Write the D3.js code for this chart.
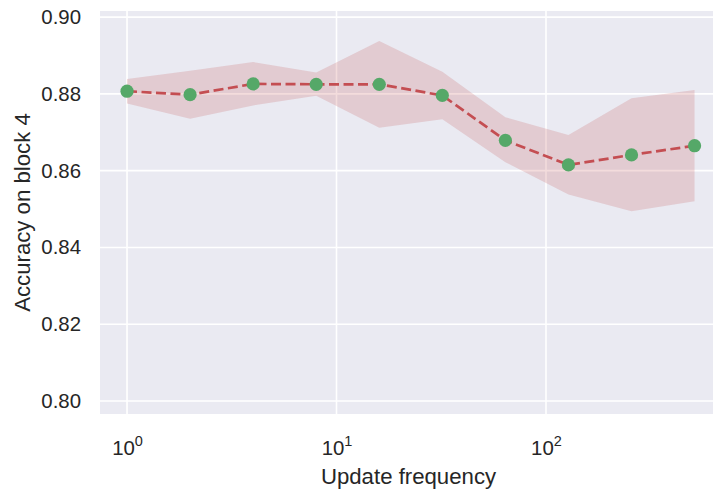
<!DOCTYPE html>
<html>
<head>
<meta charset="utf-8">
<script src="https://cdn.jsdelivr.net/npm/d3@7"></script>
<style>
  body { margin: 0; background: #fff; }
  text { font-family: "Liberation Sans", Arial, sans-serif; fill: #262626; }
</style>
</head>
<body>
<svg id="svg" width="714" height="489"></svg>
<script>
// update frequencies and accuracy on block 4
const freqs = [1, 2, 4, 8, 16, 32, 64, 128, 256, 512];
const meanAcc = [0.8807, 0.8798, 0.8826, 0.8825, 0.8825, 0.8796, 0.8679, 0.8615, 0.8641, 0.8665];
const upperAcc = [0.8839, 0.8860, 0.8883, 0.8856, 0.8938, 0.8858, 0.8739, 0.8693, 0.8789, 0.8810];
const lowerAcc = [0.8775, 0.8735, 0.8770, 0.8795, 0.8712, 0.8734, 0.8622, 0.8538, 0.8494, 0.8520];
const yTicks = [0.80, 0.82, 0.84, 0.86, 0.88, 0.90];
const xTicks = [1, 10, 100];

const plotLeft = 100, plotRight = 713, plotTop = 11, plotBottom = 414;
const svg = d3.select('#svg');

const x = d3.scaleLog().domain([0.743, 627]).range([plotLeft, plotRight]);
const y = d3.scaleLinear().domain([0.7966, 0.9016]).range([plotBottom, plotTop]);

// background
svg.append('rect')
    .attr('x', plotLeft).attr('y', plotTop)
    .attr('width', plotRight - plotLeft).attr('height', plotBottom - plotTop)
    .attr('fill', '#EAEAF2');

// grid lines
svg.append('g').selectAll('line').data(yTicks).join('line')
    .attr('x1', plotLeft).attr('x2', plotRight)
    .attr('y1', d => y(d)).attr('y2', d => y(d))
    .attr('stroke', '#fff').attr('stroke-width', 1.6);
svg.append('g').selectAll('line').data(xTicks).join('line')
    .attr('x1', d => x(d)).attr('x2', d => x(d))
    .attr('y1', plotTop).attr('y2', plotBottom)
    .attr('stroke', '#fff').attr('stroke-width', 1.6);

// y axis labels
const yAxis = d3.axisLeft(y).tickValues(yTicks).tickFormat(d3.format('.2f')).tickSize(0).tickPadding(19);
const gy = svg.append('g').attr('transform', `translate(${plotLeft},0)`).call(yAxis);
gy.select('.domain').remove();
gy.selectAll('text').style('font-size', '20.4px').style('font-family', '"Liberation Sans", Arial, sans-serif').attr('fill', '#262626');

// x axis labels with superscripts
const xAxis = d3.axisBottom(x).tickValues(xTicks).tickFormat('').tickSize(0);
const gx = svg.append('g').attr('transform', `translate(0,${plotBottom})`).call(xAxis);
gx.select('.domain').remove();
gx.selectAll('.tick').each(function(d) {
    const t = d3.select(this).append('text')
        .attr('y', 41)
        .attr('text-anchor', 'middle')
        .attr('fill', '#262626')
        .style('font-size', '20.4px')
        .style('font-family', '"Liberation Sans", Arial, sans-serif');
    t.append('tspan').text('10');
    t.append('tspan').attr('dy', -9).style('font-size', '14.5px').text(Math.round(Math.log10(d)));
});

// confidence band
const area = d3.area()
    .x((d, i) => x(freqs[i]))
    .y0((d, i) => y(lowerAcc[i]))
    .y1((d, i) => y(upperAcc[i]));
svg.append('path')
    .datum(meanAcc)
    .attr('d', area)
    .attr('fill', '#C44E52')
    .attr('fill-opacity', 0.2);

// mean line
const line = d3.line()
    .x((d, i) => x(freqs[i]))
    .y(d => y(d));
svg.append('path')
    .datum(meanAcc)
    .attr('d', line)
    .attr('fill', 'none')
    .attr('stroke', '#C44E52')
    .attr('stroke-width', 2.7)
    .attr('stroke-dasharray', '10,4.5');

// markers
svg.append('g').selectAll('circle').data(meanAcc).join('circle')
    .attr('cx', (d, i) => x(freqs[i]))
    .attr('cy', d => y(d))
    .attr('r', 6.6)
    .attr('fill', '#55A868');

// axis titles
svg.append('text')
    .attr('x', (plotLeft + plotRight) / 2 + 2).attr('y', 484)
    .attr('text-anchor', 'middle')
    .style('font-size', '22.2px')
    .text('Update frequency');
svg.append('text')
    .attr('transform', `translate(30,${(plotTop + plotBottom) / 2}) rotate(-90)`)
    .attr('text-anchor', 'middle')
    .style('font-size', '22.2px')
    .text('Accuracy on block 4');
</script>
</body>
</html>
